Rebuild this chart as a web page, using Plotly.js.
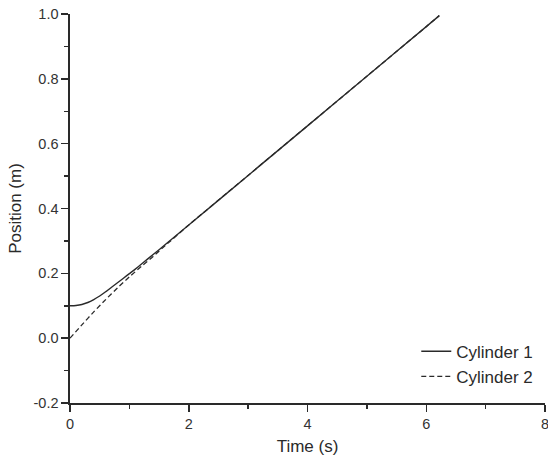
<!DOCTYPE html>
<html>
<head>
<meta charset="utf-8">
<script src="https://cdn.plot.ly/plotly-3.0.1.min.js"></script>
<style>html,body{margin:0;padding:0;background:#fff;}#chart{width:548px;height:459px;}</style>
</head>
<body>
<div id="chart"></div>
<script>
// Cylinder 1 (solid)
const time1 = [0, 0.1, 0.2, 0.3, 0.4, 0.5, 0.6, 0.7, 0.8, 0.9, 1.0, 1.1, 1.2, 1.3, 1.4, 1.6, 2.0, 3.0, 4.0, 5.0, 6.0, 6.22];
const pos1  = [0.100, 0.101, 0.104, 0.110, 0.119, 0.130, 0.143, 0.157, 0.171, 0.185, 0.199, 0.213, 0.228, 0.243, 0.258, 0.288, 0.349, 0.502, 0.655, 0.808, 0.961, 0.995];
// Cylinder 2 (dashed)
const time2 = [0, 0.2, 0.4, 0.6, 0.8, 1.0, 1.2, 1.4, 1.6, 2.0, 3.0, 4.0, 5.0, 6.0, 6.22];
const pos2  = [0.000, 0.041, 0.081, 0.119, 0.155, 0.189, 0.221, 0.252, 0.285, 0.349, 0.502, 0.655, 0.808, 0.961, 0.995];
const seriesNames = ["Cylinder 1", "Cylinder 2"];
const xTicks = [0, 2, 4, 6, 8];
const yTicks = [-0.2, 0.0, 0.2, 0.4, 0.6, 0.8, 1.0];
const yTickText = ["-0.2", "0.0", "0.2", "0.4", "0.6", "0.8", "1.0"];

const FONT = "Liberation Sans, Arial, sans-serif";
const INK = "#2a2a2a";

const traces = [
  {x: time1, y: pos1, name: seriesNames[0], mode: "lines", line: {color: INK, width: 1.4, shape: "spline", smoothing: 0.6}},
  {x: time2, y: pos2, name: seriesNames[1], mode: "lines", line: {color: INK, width: 1.3, dash: "5px,3px", shape: "spline", smoothing: 0.6}}
];

const axisCommon = {
  showline: true, linecolor: INK, linewidth: 1.6, mirror: false,
  showgrid: false, zeroline: false,
  ticks: "outside", ticklen: 7, tickwidth: 1.5, tickcolor: INK,
  tickfont: {family: FONT, size: 14.5, color: "#333"},
  ticklabeloverflow: "allow",
  automargin: false
};

const layout = {
  width: 548, height: 459,
  margin: {l: 70, r: 3, t: 14, b: 56, pad: 0},
  paper_bgcolor: "#fff", plot_bgcolor: "#fff",
  font: {family: FONT, color: INK},
  showlegend: true,
  legend: {x: 0.729, y: 0.178, xanchor: "left", yanchor: "top", bgcolor: "rgba(0,0,0,0)",
           font: {family: FONT, size: 17, color: INK}, tracegroupgap: 0},
  xaxis: Object.assign({}, axisCommon, {
    range: [0, 8], tickvals: xTicks, ticktext: xTicks.map(String),
    minor: {ticks: "outside", ticklen: 4, tickwidth: 1.5, tickcolor: INK, dtick: 1, tick0: 0, showgrid: false},
    title: {text: "Time (s)", font: {family: FONT, size: 17, color: INK}, standoff: 9}
  }),
  yaxis: Object.assign({}, axisCommon, {
    range: [-0.2, 1.0], tickvals: yTicks, ticktext: yTickText,
    minor: {ticks: "outside", ticklen: 4, tickwidth: 1.5, tickcolor: INK, dtick: 0.1, tick0: 0, showgrid: false},
    title: {text: "Position (m)", font: {family: FONT, size: 17, color: INK}, standoff: 7}
  })
};

Plotly.newPlot("chart", traces, layout, {displayModeBar: false, staticPlot: true});
</script>
</body>
</html>
